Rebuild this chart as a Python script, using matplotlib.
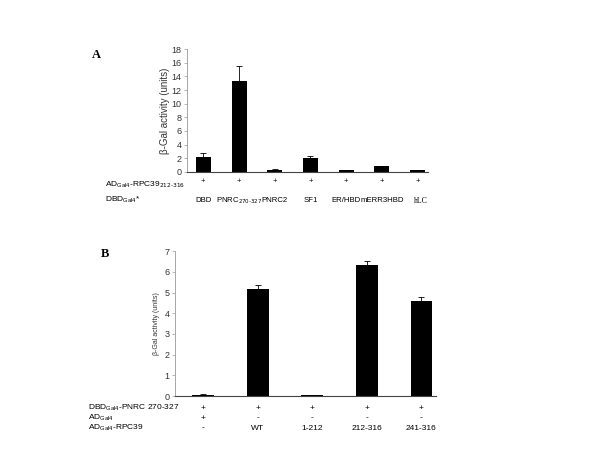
import numpy as np
import matplotlib
matplotlib.use('Agg')
import matplotlib.pyplot as plt

plt.rcParams['font.family'] = ['Liberation Sans', 'DejaVu Sans']
plt.rcParams['mathtext.default'] = 'regular'

# panel A data
a_names = ['DBD', r'PNRC$_{\text{270-327}}$', 'PNRC2', 'SF1', 'ER/HBD', 'mERR3HBD', 'hLC']
a_vals = [2.2, 13.3, 0.35, 2.05, 0.35, 0.8, 0.25]
a_err = [0.5, 2.2, 0.1, 0.3, 0.0, 0.1, 0.05]
a_row = ['+', '+', '+', '+', '+', '+', '+']

# panel B data
b_vals = [0.07, 5.18, 0.03, 6.35, 4.58]
b_err = [0.02, 0.18, 0.0, 0.15, 0.18]
b_row1 = ['+', '+', '+', '+', '+']
b_row2 = ['+', '-', '-', '-', '-']
b_row3 = ['-', 'WT', '1-212', '212-316', '241-316']

fig = plt.figure(figsize=(6, 4.5), dpi=100)

def style(ax, fs):
    for s in ['top', 'right']:
        ax.spines[s].set_visible(False)
    ax.spines['left'].set_color('#999999')
    ax.spines['left'].set_linewidth(0.6)
    ax.spines['bottom'].set_color('#444444')
    ax.spines['bottom'].set_linewidth(0.8)
    ax.tick_params(axis='y', length=2, width=0.5, color='#999999', labelsize=fs, pad=2, labelcolor='#333333')
    ax.tick_params(axis='x', length=0, labelbottom=False)

# ---- panel A
ax1 = fig.add_axes([0.312, 0.618, 0.402, 0.273])
x = np.arange(len(a_vals))
ax1.bar(x, a_vals, width=0.42, color='black')
ax1.errorbar(x, a_vals, yerr=[np.zeros(len(a_err)), a_err], fmt='none', ecolor='black',
             elinewidth=0.6, capsize=2, capthick=0.6)
ax1.set_xlim(-0.45, 6.3)
ax1.set_ylim(0, 18)
ax1.set_yticks(np.arange(0, 19, 2))
ax1.set_ylabel(u'\u03b2-Gal activity (units)', fontsize=7, labelpad=1, color='#333333')
style(ax1, 6.5)
tr1 = ax1.get_xaxis_transform()
for i in range(len(a_vals)):
    ax1.text(x[i], -0.08, a_row[i], transform=tr1, ha='center', va='center', fontsize=5.5)
    fam = 'Liberation Serif' if a_names[i] == 'hLC' else 'Liberation Sans'
    ax1.text(x[i] + (0.1 if i == 6 else 0), -0.235, a_names[i], transform=tr1, ha='center', va='center',
             fontsize=5.6, family=fam)
fig.text(105/600, 1 - 185/450, r'AD$_{Gal4}$-RPC39$_{\text{212-316}}$', ha='left', va='center', fontsize=6)
fig.text(105/600, 1 - 200/450, r'DBD$_{Gal4}$*', ha='left', va='center', fontsize=6)
fig.text(92/600, 1 - 55/450, 'A', family='Liberation Serif', fontweight='bold', fontsize=9, ha='left', va='center')

# ---- panel B
ax2 = fig.add_axes([0.292, 0.12, 0.435, 0.322])
xb = np.arange(len(b_vals))
ax2.bar(xb, b_vals, width=0.40, color='black')
ax2.errorbar(xb, b_vals, yerr=[np.zeros(len(b_err)), b_err], fmt='none', ecolor='black',
             elinewidth=0.6, capsize=2, capthick=0.6)
ax2.set_xlim(-0.51, 4.27)
ax2.set_ylim(0, 7)
ax2.set_yticks(np.arange(0, 8, 1))
ax2.set_ylabel(u'\u03b2-Gal activity (units)', fontsize=5, labelpad=3, color='#333333')
style(ax2, 6.5)
tr2 = ax2.get_xaxis_transform()
for i in range(len(b_vals)):
    ax2.text(xb[i], -0.083, b_row1[i], transform=tr2, ha='center', va='center', fontsize=6)
    ax2.text(xb[i], -0.152, b_row2[i], transform=tr2, ha='center', va='center', fontsize=6)
    ax2.text(xb[i], -0.221, b_row3[i], transform=tr2, ha='center', va='center', fontsize=6)
fig.text(88/600, 1 - 408/450, r'DBD$_{Gal4}$-PNRC 270-327', ha='left', va='center', fontsize=6)
fig.text(88/600, 1 - 418/450, r'AD$_{Gal4}$', ha='left', va='center', fontsize=6)
fig.text(88/600, 1 - 428/450, r'AD$_{Gal4}$-RPC39', ha='left', va='center', fontsize=6)
fig.text(101/600, 1 - 254/450, 'B', family='Liberation Serif', fontweight='bold', fontsize=9, ha='left', va='center')

fig.savefig('out.png', dpi=100)
